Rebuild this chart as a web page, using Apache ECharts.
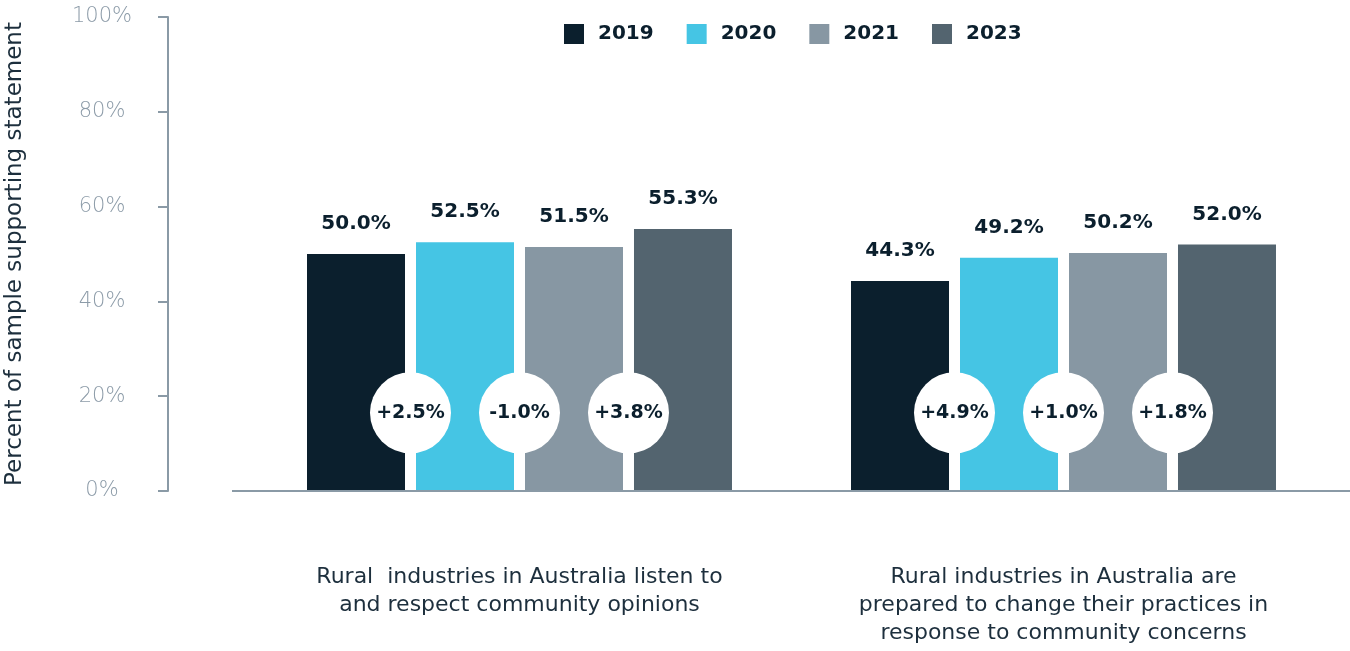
<!DOCTYPE html>
<html>
<head>
<meta charset="utf-8">
<style>
  html, body { margin: 0; padding: 0; background: #ffffff; }
  #chart { width: 1350px; height: 651px; }
</style>
<script src="https://cdn.jsdelivr.net/npm/echarts@6/dist/echarts.min.js"></script>
</head>
<body>
<div id="chart"></div>
<script>
// Survey statements (x categories)
const categories = [
  'Rural  industries in Australia listen to\nand respect community opinions',
  'Rural industries in Australia are\nprepared to change their practices in\nresponse to community concerns'
];

// Survey waves
const years = ['2019', '2020', '2021', '2023'];

// Percent of sample supporting each statement, per wave
const values2019 = [50.0, 44.3];
const values2020 = [52.5, 49.2];
const values2021 = [51.5, 50.2];
const values2023 = [55.3, 52.0];

// Y axis ticks
const yTicks = [0, 20, 40, 60, 80, 100];

const seriesValues = [values2019, values2020, values2021, values2023];
const colors = ['#0b1f2d', '#45c5e4', '#8797a3', '#53646f'];

const FONT = '"DejaVu Sans", sans-serif';
const DARK = '#0b1f2d';
const TEXT = '#1d2f3d';
const AXIS = '#8a9aa6';
const BAR_W = 98;
const BAR_GAP = 11;
const BUBBLE_LEVEL = 16.5;   // height of the change bubbles, in axis units
const BUBBLE_R = 40.5;

// Change between consecutive waves, per statement
const changes = categories.map((_, ci) => {
  const out = [];
  for (let k = 1; k < seriesValues.length; k++) {
    const d = seriesValues[k][ci] - seriesValues[k - 1][ci];
    out.push((d >= 0 ? '+' : '-') + Math.abs(d).toFixed(1) + '%');
  }
  return out;
});

const chart = echarts.init(document.getElementById('chart'));

const barSeries = years.map((y, i) => ({
  name: y,
  type: 'bar',
  data: seriesValues[i],
  barWidth: BAR_W,
  barGap: (BAR_GAP / BAR_W * 100).toFixed(2) + '%',
  itemStyle: { color: colors[i] },
  label: {
    show: true,
    position: 'top',
    distance: 20,
    formatter: p => p.value.toFixed(1) + '%',
    color: DARK,
    fontFamily: FONT,
    fontWeight: 'bold',
    fontSize: 20
  },
  emphasis: { disabled: true }
}));

const bubbleSeries = {
  type: 'custom',
  name: 'change',
  data: categories.map((_, i) => [i]),
  z: 10,
  silent: true,
  renderItem: (params, api) => {
    const c = api.coord([api.value(0), BUBBLE_LEVEL]);
    const step = BAR_W + BAR_GAP;
    const offsets = [-step, 0, step];
    const labels = changes[params.dataIndex];
    return {
      type: 'group',
      children: offsets.flatMap((o, k) => [
        {
          type: 'circle',
          shape: { cx: c[0] + o, cy: c[1], r: BUBBLE_R },
          style: { fill: '#ffffff' }
        },
        {
          type: 'text',
          x: c[0] + o,
          y: c[1],
          style: {
            text: labels[k],
            align: 'center',
            verticalAlign: 'middle',
            fill: DARK,
            font: 'bold 19px ' + FONT
          }
        }
      ])
    };
  }
};

chart.setOption({
  backgroundColor: '#ffffff',
  animation: false,
  legend: {
    data: years,
    top: 24,
    left: 564,
    padding: 0,
    itemWidth: 20,
    itemHeight: 20,
    itemGap: 33,
    icon: 'rect',
    textStyle: { color: DARK, fontFamily: FONT, fontWeight: 'bold', fontSize: 20, padding: [0, 0, 0, 9] }
  },
  grid: {
    left: 247.5, right: 14.5, top: 17, bottom: 160,
    containLabel: false,
    outerBoundsMode: 'none'
  },
  xAxis: {
    type: 'category',
    data: categories,
    axisLine: { show: false },
    axisTick: { show: false },
    axisLabel: {
      margin: 72,
      color: TEXT,
      fontFamily: FONT,
      fontSize: 22,
      lineHeight: 28,
      align: 'center'
    }
  },
  yAxis: {
    type: 'value',
    min: 0,
    max: 100,
    interval: 20,
    offset: 79.5,
    name: 'Percent of sample supporting statement',
    nameLocation: 'middle',
    nameGap: 141,
    nameTextStyle: { color: TEXT, fontFamily: FONT, fontSize: 23 },
    axisLine: { show: true, lineStyle: { color: AXIS, width: 2 } },
    axisTick: { show: true, length: 10, lineStyle: { color: AXIS, width: 2 } },
    splitLine: { show: false },
    axisLabel: {
      formatter: '{value}%',
      align: 'center',
      margin: 66,
      padding: [0, 0, 8, 0],
      color: '#8c9ba8',
      fontFamily: FONT,
      fontWeight: 200,
      fontSize: 21
    }
  },
  series: [...barSeries, bubbleSeries]
});

// Baseline under the bars, running wider than the plot area
const y0 = chart.convertToPixel({ yAxisIndex: 0 }, yTicks[0]);
chart.setOption({
  graphic: [{
    type: 'line',
    shape: { x1: 232, y1: y0, x2: chart.getWidth(), y2: y0 },
    style: { stroke: AXIS, lineWidth: 2 },
    z: 5
  }]
});
</script>
</body>
</html>
